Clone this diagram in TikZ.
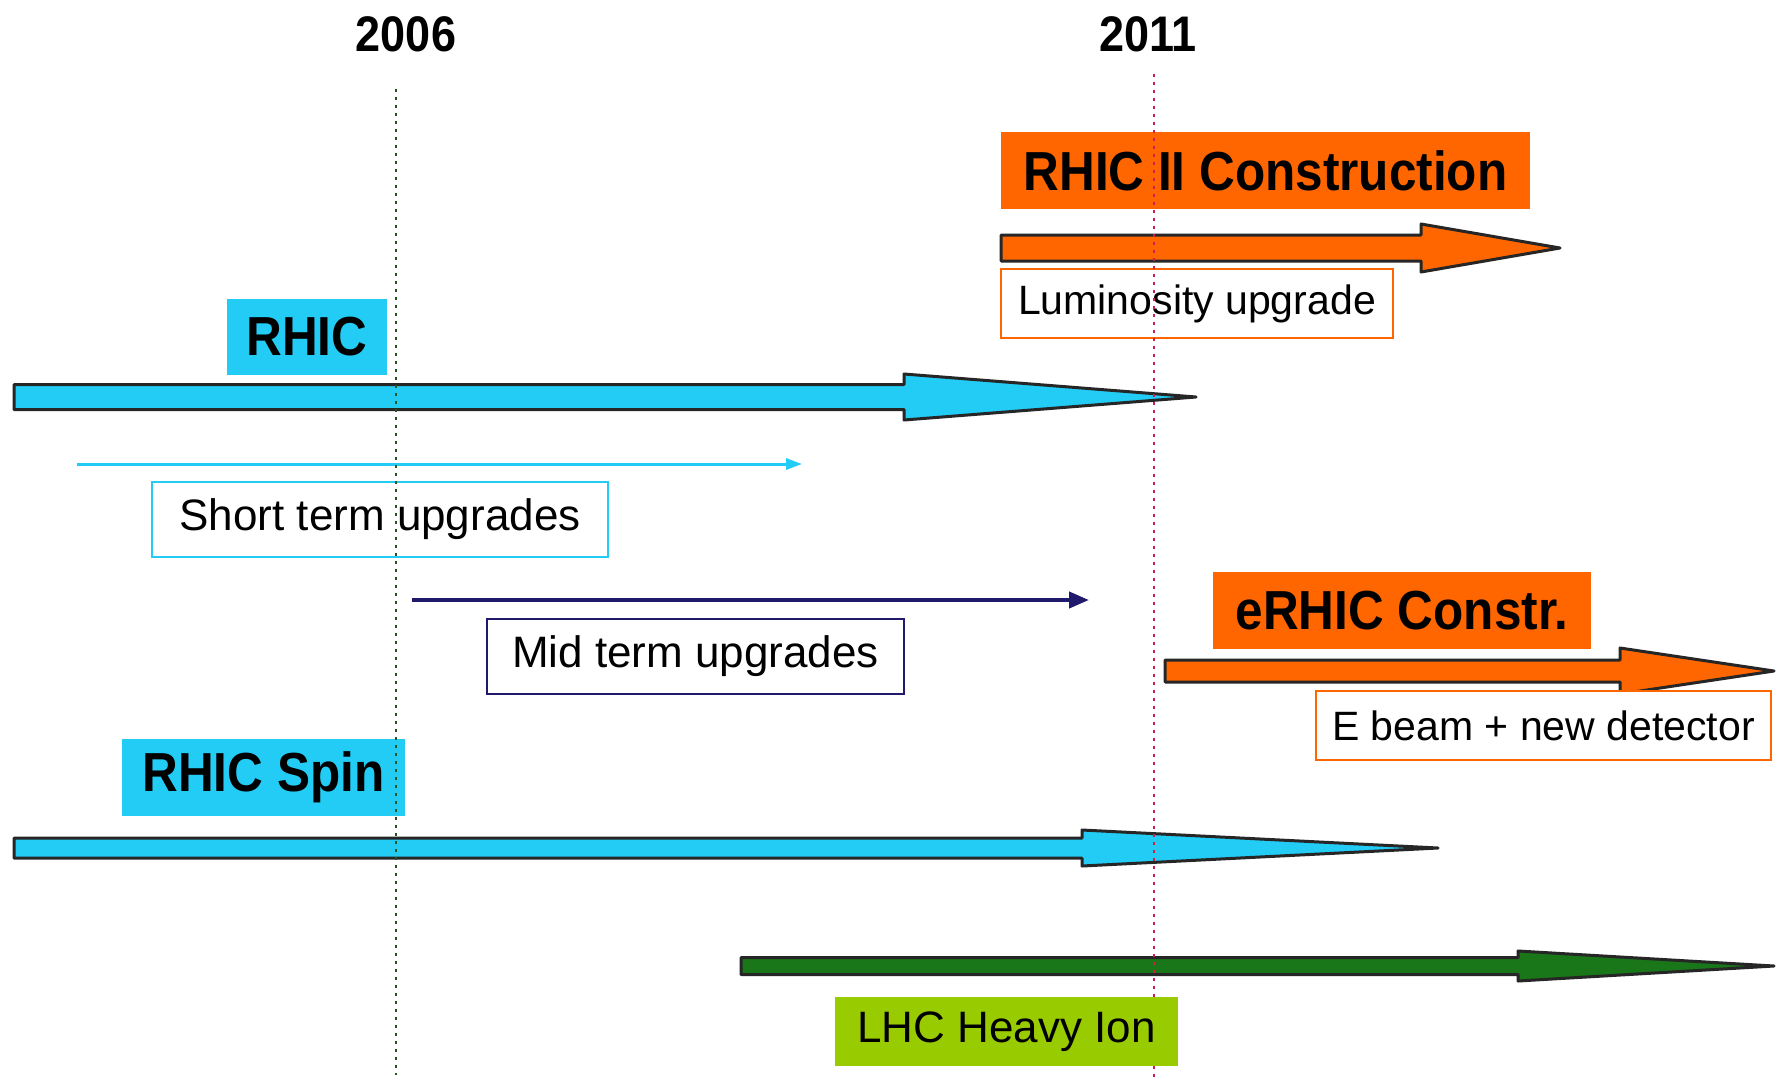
\documentclass[tikz,border=0pt]{standalone}
\usepackage{fontspec}
\setmainfont{Liberation Sans}
\usetikzlibrary{arrows.meta}
\definecolor{rcyan}{HTML}{22CCF5}
\definecolor{rorange}{HTML}{FF6600}
\definecolor{rnavy}{HTML}{1F1A6B}
\definecolor{rgreen}{HTML}{1E5E1E}
\definecolor{rlime}{HTML}{99CC00}
\definecolor{rred}{HTML}{CC1F4A}
\definecolor{rdgreen}{HTML}{2E7D32}
\newcommand\blockarrow[7]{%
  \draw[line width=3pt, fill=#1, line join=round, draw=black!85]
    (#2,#5-#6) -- (#3,#5-#6) -- (#3,#5-#7) -- (#4,#5) -- (#3,#5+#7) -- (#3,#5+#6) -- (#2,#5+#6) -- cycle;}
\newcommand\narrowtxt[1]{\scalebox{0.9}[1]{#1}}
\begin{document}
\begin{tikzpicture}[x=1pt,y=-1pt,
  yearlbl/.style={font=\fontsize{50}{54}\selectfont\bfseries, inner sep=0, text=black},
  titlebox/.style={font=\fontsize{55}{60}\selectfont\bfseries, inner sep=0, text=black, draw=none},
  notebox/.style={font=\fontsize{44}{50}\selectfont, inner sep=0, text=black, fill=white, line width=2pt},
  yearline/.style={line width=2.5pt, dash pattern=on 3pt off 5pt}
]
\useasboundingbox (0,0) rectangle (1783,1085);
\fill[white] (0,0) rectangle (1783,1085);

% years
\node[yearlbl] (y2006) at (406,34) {\narrowtxt{2006}};
\node[yearlbl] (y2011) at (1148,34) {\narrowtxt{2011}};

% block arrows
\blockarrow{rorange}{1001}{1421}{1560}{248}{13}{24}
\blockarrow{rcyan}{14}{904}{1196}{397}{12.5}{23}
\blockarrow{rorange}{1165}{1620}{1774}{671}{11}{23}
\blockarrow{rcyan}{14}{1082}{1438}{848}{10}{18}
\blockarrow{rgreen!85!green}{741}{1518}{1774}{966}{8.5}{15}

% thin arrows
\coordinate (st0) at (77,464);
\coordinate (st1) at (802,464);
\draw[rcyan, line width=3pt, -{Triangle[length=16pt,width=11pt]}] (st0) -- (st1);
\coordinate (mt0) at (412,600);
\coordinate (mt1) at (1089,600);
\draw[rnavy, line width=4pt, -{Triangle[length=20pt,width=16pt]}] (mt0) -- (mt1);

% boxes
\node[titlebox, fill=rorange, minimum width=529pt, minimum height=77pt] (rhicII) at (1265.5,170.5) {\narrowtxt{RHIC II Construction}};
\node[notebox, draw=rorange, font=\fontsize{41}{46}\selectfont, minimum width=392pt, minimum height=69pt] (lumi) at (1197,303.5) {Luminosity upgrade};
\node[titlebox, fill=rcyan, minimum width=160pt, minimum height=76pt] (rhic) at (307,337) {\narrowtxt{RHIC}};
\node[notebox, draw=rcyan, minimum width=456pt, minimum height=75pt] (short) at (380,519.5) {Short term upgrades};
\node[notebox, draw=rnavy, minimum width=417pt, minimum height=75pt] (mid) at (695.5,656.5) {Mid term upgrades};
\node[titlebox, fill=rorange, minimum width=378pt, minimum height=77pt] (erhic) at (1402,610.5) {\narrowtxt{eRHIC Constr.}};
\node[notebox, draw=rorange, font=\fontsize{41}{46}\selectfont, minimum width=455pt, minimum height=69pt] (ebeam) at (1543.5,725.5) {E beam + new detector};
\node[titlebox, fill=rcyan, minimum width=283pt, minimum height=77pt] (spin) at (263.5,777.5) {\narrowtxt{RHIC Spin}};

% year lines
\coordinate (g0) at (396,89);
\coordinate (g1) at (396,1075);
\coordinate (r0) at (1154,74);
\coordinate (r1) at (1154,1080);
\draw[yearline, rdgreen!70!black] (g0) -- (g1);
\draw[yearline, rred] (r0) -- (r1);

\node[notebox, fill=rlime, draw=none, minimum width=343pt, minimum height=69pt] (lhc) at (1006.5,1031.5) {LHC Heavy Ion};
\end{tikzpicture}
\end{document}
